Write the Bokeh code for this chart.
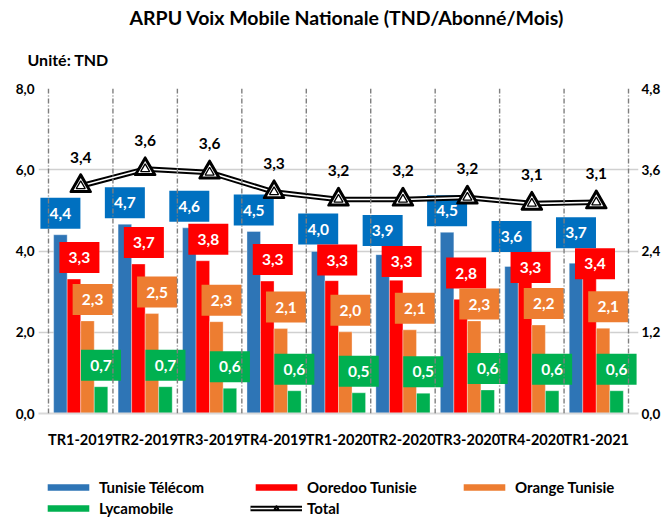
from bokeh.plotting import figure
from bokeh.models import (ColumnDataSource, Range1d, LinearAxis, FixedTicker,
                          CustomJSTickFormatter, Span, Title, Legend, LegendItem,
                          FactorRange)
from bokeh.layouts import column
from bokeh.transform import dodge
from bokeh.core.properties import value
from bokeh.embed import file_html
from bokeh.resources import INLINE

# ---------------- data ----------------
categories = ["TR1-2019", "TR2-2019", "TR3-2019", "TR4-2019", "TR1-2020",
              "TR2-2020", "TR3-2020", "TR4-2020", "TR1-2021"]
tunisie_telecom = [4.40, 4.66, 4.57, 4.48, 3.99, 3.91, 4.46, 3.62, 3.70]
ooredoo_tunisie = [3.31, 3.68, 3.76, 3.26, 3.27, 3.28, 2.81, 3.27, 3.38]
orange_tunisie = [2.28, 2.46, 2.26, 2.09, 2.01, 2.06, 2.28, 2.18, 2.10]
lycamobile = [0.66, 0.66, 0.62, 0.56, 0.51, 0.50, 0.58, 0.56, 0.56]
total = [3.36, 3.61, 3.56, 3.27, 3.16, 3.16, 3.19, 3.10, 3.12]
left_ticks = [0, 2, 4, 6, 8]
right_ticks = [0, 1.2, 2.4, 3.6, 4.8]
series_names = ["Tunisie Télécom", "Ooredoo Tunisie", "Orange Tunisie", "Lycamobile"]
total_name = "Total"
title_text = "ARPU Voix Mobile Nationale (TND/Abonné/Mois)"
unit_text = "Unité: TND"

# ---------------- layout ----------------
FONT = "Lato"
W = 663
H_MAIN, H_LEG = 470, 48
BL, BR, BT, BB = 38, 25, 88, 57
frame_h = H_MAIN - BT - BB
px_left = frame_h / (left_ticks[-1] - left_ticks[0])
BOX_W, BOX_H, LABEL_GAP = 40, 31, 21.5

colors = ["#2E75B6", "#FF0000", "#ED7D31", "#00B050"]
label_colors = ["#0070C0", "#FF0000", "#ED7D31", "#00B050"]
bar_offsets = [-0.315, -0.105, 0.105, 0.315]
label_shift = [0.0, 0.085, 0.08, 0.0]


def fmt(v):
    return f"{v:.1f}".replace(".", ",")


p = figure(x_range=FactorRange(*categories, range_padding=0.155,
                               range_padding_units="absolute"),
           y_range=Range1d(0, 8),
           width=W, height=H_MAIN, output_backend="svg", toolbar_location=None,
           title=None,
           min_border_left=BL, min_border_right=BR, min_border_top=BT,
           min_border_bottom=BB, outline_line_color=None,
           background_fill_color="white", border_fill_color="white")
p.extra_y_ranges = {"right": Range1d(0, 4.8)}

tick_fmt = CustomJSTickFormatter(code="return tick.toFixed(1).replace('.', ',');")

# left axis
p.yaxis.ticker = FixedTicker(ticks=left_ticks)
p.yaxis.formatter = tick_fmt
p.yaxis.axis_line_color = None
p.yaxis.major_tick_line_color = None
p.yaxis.minor_tick_line_color = None
p.yaxis.major_tick_out = 0
p.yaxis.major_label_standoff = 4
p.yaxis.major_label_text_font = FONT
p.yaxis.major_label_text_font_style = "bold"
p.yaxis.major_label_text_font_size = "13.5px"
p.yaxis.major_label_text_color = "black"

# right axis
ra = LinearAxis(y_range_name="right", ticker=FixedTicker(ticks=right_ticks),
                formatter=tick_fmt)
ra.axis_line_color = None
ra.major_tick_line_color = None
ra.minor_tick_line_color = None
ra.major_tick_out = 0
ra.major_label_standoff = 3
ra.major_label_text_font = FONT
ra.major_label_text_font_style = "bold"
ra.major_label_text_font_size = "13.5px"
ra.major_label_text_color = "black"
p.add_layout(ra, "right")

# x axis
p.xaxis.axis_line_color = "#d9d9d9"
p.xaxis.axis_line_width = 2
p.xaxis.major_tick_line_color = None
p.xaxis.minor_tick_line_color = None
p.xaxis.major_tick_out = 0
p.xaxis.major_label_standoff = 17
p.xaxis.major_label_text_font = FONT
p.xaxis.major_label_text_font_style = "bold"
p.xaxis.major_label_text_font_size = "14.5px"
p.xaxis.major_label_text_color = "black"

# grid
p.xgrid.grid_line_color = None
p.ygrid.ticker = FixedTicker(ticks=left_ticks[1:-1])
p.ygrid.grid_line_color = "#d0d0d0"
p.ygrid.grid_line_width = 1.6

for i in range(len(categories) + 1):
    p.add_layout(Span(location=i, dimension="height", line_color="#7f7f7f",
                      line_width=1.4, line_dash="5 2 1 2"))

# ---------------- label placement (value + gap, pushed apart if overlapping) ----------------
all_vals = [tunisie_telecom, ooredoo_tunisie, orange_tunisie, lycamobile]
label_y = [[0.0] * len(categories) for _ in all_vals]
for j in range(len(categories)):
    c = [vals[j] * px_left + LABEL_GAP for vals in all_vals]
    for _ in range(40):
        for s in range(len(c) - 1):
            hi, lo = (s, s + 1) if c[s] >= c[s + 1] else (s + 1, s)
            d = c[hi] - c[lo]
            if d < BOX_H:
                push = (BOX_H - d) / 2
                c[hi] += push
                c[lo] -= push
    for s in range(len(c)):
        label_y[s][j] = c[s] / px_left

# ---------------- bars ----------------
sources = []
for s, vals in enumerate(all_vals):
    src = ColumnDataSource(dict(cat=categories, v=vals, ly=label_y[s],
                                txt=[fmt(v) for v in vals]))
    sources.append(src)
    p.vbar(x=dodge("cat", bar_offsets[s], range=p.x_range), top="v", width=0.21,
           source=src, fill_color=colors[s], line_color="white", line_alpha=0.35,
           line_width=1)

for s, src in enumerate(sources):
    xl = dodge("cat", bar_offsets[s] + label_shift[s], range=p.x_range)
    p.rect(x=xl, y="ly", width=BOX_W, height=BOX_H, width_units="screen",
           height_units="screen", source=src, fill_color=label_colors[s],
           line_color=None)
    p.text(x=xl, y="ly", text="txt", source=src, text_color="white",
           text_font=value(FONT), text_font_style="bold", text_font_size="15.5px",
           text_align="center", text_baseline="middle")

# ---------------- total line ----------------
tsrc = ColumnDataSource(dict(cat=categories, t=total, txt=[fmt(v) for v in total]))


def draw_total(fig, src, **kw):
    return [
        fig.line(x="cat", y="t", source=src, line_color="black", line_width=5.5,
                 line_join="round", **kw),
        fig.line(x="cat", y="t", source=src, line_color="white", line_width=1.6,
                 line_join="round", **kw),
        fig.scatter(x="cat", y="t", source=src, marker="triangle", size=20,
                    fill_color="black", line_color="black", line_width=2.5,
                    line_join="round", **kw),
        fig.scatter(x="cat", y="t", source=src, marker="triangle", size=14,
                    fill_color="white", line_color=None, **kw),
        fig.scatter(x="cat", y="t", source=src, marker="triangle", size=9,
                    fill_color="white", line_color="black", line_width=1.3, **kw),
    ]


draw_total(p, tsrc, y_range_name="right")
p.text(x="cat", y="t", text="txt", source=tsrc, y_range_name="right",
       y_offset=-29, text_color="black", text_font=value(FONT),
       text_font_style="bold", text_font_size="15.5px", text_align="center",
       text_baseline="middle")

# ---------------- titles ----------------
p.add_layout(Title(text=unit_text, align="left", offset=-11, standoff=39,
                   text_font=FONT, text_font_style="bold",
                   text_font_size="16px", text_color="black"), "above")
p.add_layout(Title(text=title_text, align="left", offset=91, standoff=0,
                   text_font=FONT, text_font_style="bold",
                   text_font_size="19.5px", text_color="black"), "above")

# ---------------- legend (strip below the chart; data kept out of view) ----------------
lf = figure(width=W, height=H_LEG, output_backend="svg", toolbar_location=None,
            x_range=FactorRange(*categories), y_range=Range1d(100, 101),
            min_border=0, outline_line_color=None, background_fill_color="white",
            border_fill_color="white")
lf.axis.visible = False
lf.grid.visible = False
leg_bars = [lf.vbar(x="cat", top="v", width=0.2, source=sources[s],
                    fill_color=colors[s], line_color=None) for s in range(4)]
leg_total = draw_total(lf, tsrc)

common = dict(orientation="horizontal", glyph_width=52, glyph_height=8,
              label_standoff=5, label_width=151, label_height=16, spacing=0,
              padding=0, margin=0, border_line_color=None, background_fill_alpha=0,
              label_text_font=FONT, label_text_font_style="bold",
              label_text_font_size="15px", label_text_color="black")
leg1 = Legend(items=[LegendItem(label=series_names[i], renderers=[leg_bars[i]])
                     for i in range(3)], location=(4, 22), **common)
leg2 = Legend(items=[LegendItem(label=series_names[3], renderers=[leg_bars[3]]),
                     LegendItem(label=total_name, renderers=leg_total)],
              location=(4, 1), **common)
lf.add_layout(leg1, "center")
lf.add_layout(leg2, "center")

open("out.html", "w").write(file_html(column(p, lf, spacing=0), INLINE))
